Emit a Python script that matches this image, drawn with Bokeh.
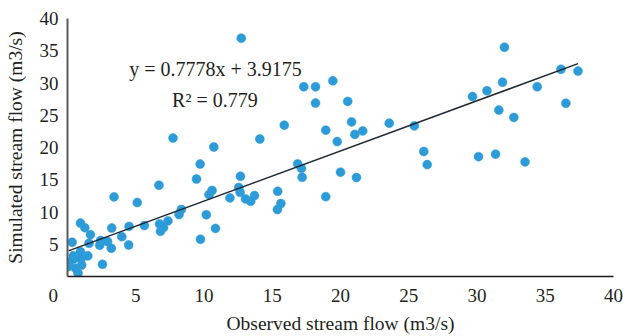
from bokeh.plotting import figure
from bokeh.models import FixedTicker, Label, ColumnDataSource
from bokeh.embed import file_html
from bokeh.resources import INLINE
import numpy as np

observed = [12.73, 17.31, 18.17, 18.17, 19.44, 20.53, 18.92, 20.81, 19.76, 21.05,
            21.63, 23.57, 25.41, 26.10, 26.35, 20.00, 21.17, 18.92, 32.01, 29.67,
            30.73, 31.87, 31.60, 32.70, 34.41, 36.15, 37.40, 36.51, 30.11, 31.36,
            33.52, 7.73, 15.88, 14.09, 10.72, 9.72, 16.86, 17.14, 17.19, 9.45,
            12.67, 12.55, 12.64, 10.59, 10.37, 11.90, 13.04, 13.42, 13.70, 15.40,
            15.63, 15.38, 10.17, 10.84, 9.74, 6.70, 3.41, 5.11, 8.34, 8.17,
            7.36, 6.74, 6.81, 7.03, 5.63, 4.51, 3.24, 3.98, 4.48, 3.21,
            2.93, 2.36, 2.42, 1.58, 1.68, 1.27, 0.95, 0.34, 1.49, 0.95,
            0.44, 0.10, 0.07, 0.42, 1.04, 0.77, 2.56, 0.59, 0.99]
simulated = [36.95, 29.42, 29.42, 26.89, 30.34, 27.15, 22.69, 23.97, 20.92, 22.03,
             22.57, 23.77, 23.35, 19.38, 17.35, 16.18, 15.35, 12.38, 35.54, 27.89,
             28.80, 30.12, 25.80, 24.66, 29.42, 32.12, 31.85, 26.85, 18.58, 18.97,
             17.77, 21.46, 23.46, 21.31, 20.08, 17.43, 17.46, 16.77, 15.38, 15.11,
             15.54, 13.80, 13.05, 13.34, 12.69, 12.18, 12.03, 11.66, 12.54, 13.20,
             11.31, 10.38, 9.58, 7.46, 5.77, 14.15, 12.34, 11.46, 10.38, 9.62,
             8.62, 8.15, 7.00, 7.57, 7.89, 7.77, 7.51, 6.18, 4.89, 4.38,
             5.43, 4.85, 5.58, 5.15, 6.49, 7.57, 8.28, 5.31, 3.20, 3.85,
             2.69, 2.18, 1.54, 3.20, 1.77, 0.51, 1.88, 1.26, 2.69]

slope = 0.7778
intercept = 3.9175
r_squared = 0.779

x_ticks = [0, 5, 10, 15, 20, 25, 30, 35, 40]
y_ticks = [5, 10, 15, 20, 25, 30, 35, 40]

FONT = "Liberation Serif"
TXT = "#231f20"
BLUE = "#2c9bd8"

p = figure(width=623, height=336, x_range=(0, 40), y_range=(0, 40),
           output_backend="svg", toolbar_location=None,
           min_border_left=67, min_border_right=10,
           min_border_top=18, min_border_bottom=58)
p.outline_line_color = None
p.xgrid.visible = False
p.ygrid.visible = False
p.background_fill_color = "white"
p.border_fill_color = "white"

src = ColumnDataSource(dict(x=observed, y=simulated))
p.scatter("x", "y", source=src, size=9, fill_color=BLUE, line_color=BLUE,
          line_width=0.5)

xs = np.array([min(observed), max(observed)])
p.line(xs, slope * xs + intercept, line_color="#1f2733", line_width=1.5)

for ax in (p.xaxis[0], p.yaxis[0]):
    ax.major_tick_out = 0
    ax.major_tick_in = 0
    ax.minor_tick_out = 0
    ax.minor_tick_in = 0
    ax.major_label_text_font = FONT
    ax.major_label_text_font_size = "19px"
    ax.major_label_text_color = TXT
    ax.axis_label_text_font = FONT
    ax.axis_label_text_font_size = "19.5px"
    ax.axis_label_text_font_style = "normal"
    ax.axis_label_text_color = TXT

p.xaxis.ticker = FixedTicker(ticks=x_ticks)
p.yaxis.ticker = FixedTicker(ticks=y_ticks)
# the "0" sits left of the axis corner in the original; pad it on the right
p.xaxis.major_label_overrides = {0: "0" + "\u00a0" * 6}
p.xaxis.axis_label = "Observed stream flow (m3/s)"
p.yaxis.axis_label = "Simulated stream flow (m3/s)"
p.xaxis.axis_line_color = "#1a1a1a"
p.xaxis.axis_line_width = 1.5
p.yaxis.axis_line_color = "#5a5a5a"
p.yaxis.axis_line_width = 2
p.xaxis.major_label_standoff = 8
p.yaxis.major_label_standoff = 9
p.xaxis.axis_label_standoff = 4
p.yaxis.axis_label_standoff = 11

p.add_layout(Label(x=10.84, y=32.2, text=f"y = {slope}x + {intercept}",
                   text_font=FONT, text_font_size="20px", text_color=TXT,
                   text_align="center", text_baseline="middle"))
p.add_layout(Label(x=10.8, y=27.3, text=f"R\u00b2 = {r_squared}",
                   text_font=FONT, text_font_size="20px", text_color=TXT,
                   text_align="center", text_baseline="middle"))

open("out.html", "w").write(file_html(p, INLINE))
